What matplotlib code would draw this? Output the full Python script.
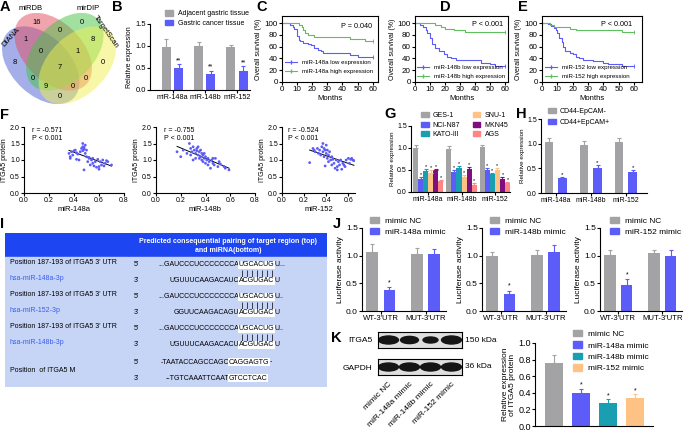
import numpy as np
import matplotlib.pyplot as plt
from matplotlib.patches import Ellipse, Rectangle
from matplotlib.lines import Line2D

plt.rcParams['font.family'] = ['Liberation Sans', 'DejaVu Sans']
plt.rcParams['axes.linewidth'] = 0.8
for k in ['xtick', 'ytick']:
    plt.rcParams[k + '.major.width'] = 0.8
    plt.rcParams[k + '.major.size'] = 2
    plt.rcParams[k + '.major.pad'] = 1
plt.rcParams['axes.labelpad'] = 1.5

W, H = 685, 432
GRAY = '#a3a3a6'
BLUE = '#5c5cf8'
TEAL = '#1a9fb2'
PEACH = '#ffc285'
PURPLE = '#7f0f7f'
SALMON = '#ff8585'
GREEN = '#5fbf5f'

# ---------------- data ----------------
venn_names = ['DIANA', 'miRDB', 'mirDIP', 'TargetScan']
venn_regions = ['1000', '0100', '0010', '0001', '1100', '0110', '0011', '1110',
                '0111', '1010', '0101', '1111', '1011', '1101', '1001']
venn_counts = [8, 16, 0, 0, 1, 0, 8, 0, 1, 0, 0, 7, 9, 0, 0]

mirs = ['miR-148a', 'miR-148b', 'miR-152']
b_adjacent = [0.98, 1.01, 0.98]
b_adjacent_err = [0.17, 0.08, 0.05]
b_cancer = [0.50, 0.36, 0.44]
b_cancer_err = [0.08, 0.08, 0.10]

# survival curves (months, % surviving)
c_low_t = [0, 5, 7, 8, 10, 11, 12, 14, 17, 19, 21, 24, 26, 27, 45, 50, 60]
c_low_s = [100, 97, 93, 90, 78, 72, 70, 67, 65, 62, 58, 55, 52, 50, 45, 43, 43]
c_high_t = [0, 11, 13, 14, 15, 17, 21, 45, 55, 60]
c_high_s = [100, 97, 93, 88, 83, 80, 76, 73, 70, 70]
d_low_t = [0, 3, 5, 7, 8, 10, 11, 13, 16, 19, 21, 24, 27, 44, 50, 53, 60]
d_low_s = [100, 97, 93, 88, 83, 75, 65, 58, 52, 48, 43, 40, 38, 33, 30, 27, 27]
d_high_t = [0, 13, 17, 20, 26, 33, 60]
d_high_s = [100, 97, 93, 90, 88, 85, 85]
e_low_t = [0, 4, 6, 8, 9, 10, 11, 13, 14, 15, 18, 20, 22, 24, 27, 33, 40, 43, 52, 60]
e_low_s = [100, 98, 95, 92, 88, 83, 75, 68, 60, 53, 50, 47, 43, 40, 37, 35, 32, 30, 27, 27]
e_high_t = [0, 5, 8, 18, 22, 52, 60]
e_high_s = [100, 97, 93, 90, 88, 85, 85]

f1_x = [0.36, 0.37, 0.37, 0.38, 0.39, 0.40, 0.41, 0.42, 0.42, 0.43,
        0.44, 0.45, 0.46, 0.47, 0.47, 0.47, 0.48, 0.48, 0.48, 0.49,
        0.49, 0.50, 0.50, 0.51, 0.52, 0.53, 0.54, 0.55, 0.55, 0.56,
        0.57, 0.58, 0.59, 0.60, 0.60, 0.61, 0.62, 0.63, 0.64, 0.65,
        0.66, 0.67, 0.70, 0.48, 0.52]
f1_y = [1.20, 1.05, 1.10, 1.25, 1.15, 1.28, 1.30, 1.02, 1.22, 1.18,
        1.00, 1.25, 1.35, 1.40, 1.50, 1.28, 1.38, 1.32, 0.70, 1.45,
        1.20, 1.30, 1.10, 0.95, 1.05, 0.85, 1.00, 0.90, 1.05, 0.82,
        0.95, 0.78, 1.02, 0.80, 0.72, 0.95, 0.85, 1.00, 0.82, 0.90,
        0.98, 0.95, 0.85, 1.35, 1.08]
f2_x = [0.17, 0.20, 0.22, 0.25, 0.27, 0.28, 0.28, 0.29, 0.30, 0.31,
        0.32, 0.32, 0.33, 0.33, 0.34, 0.34, 0.35, 0.35, 0.36, 0.36,
        0.37, 0.37, 0.38, 0.38, 0.39, 0.40, 0.40, 0.41, 0.42, 0.42,
        0.43, 0.44, 0.45, 0.46, 0.47, 0.48, 0.50, 0.51, 0.52, 0.55,
        0.56, 0.59, 0.46, 0.39, 0.30]
f2_y = [1.25, 1.10, 1.30, 1.20, 1.50, 1.35, 1.15, 1.25, 1.40, 1.30,
        1.20, 1.05, 1.35, 1.28, 1.40, 1.15, 1.25, 1.05, 1.30, 1.10,
        1.20, 1.00, 1.15, 0.95, 1.05, 1.10, 0.90, 1.00, 0.85, 1.05,
        0.95, 0.75, 1.00, 0.90, 0.85, 1.05, 0.80, 0.95, 0.88, 0.80,
        0.75, 0.70, 1.05, 1.20, 1.00]
f3_x = [0.25, 0.28, 0.29, 0.30, 0.32, 0.33, 0.34, 0.35, 0.36, 0.37,
        0.37, 0.38, 0.38, 0.39, 0.39, 0.40, 0.40, 0.41, 0.41, 0.42,
        0.42, 0.43, 0.44, 0.45, 0.45, 0.46, 0.47, 0.48, 0.49, 0.50,
        0.50, 0.51, 0.52, 0.53, 0.54, 0.55, 0.56, 0.57, 0.58, 0.60,
        0.61, 0.62, 0.63, 0.64, 0.65]
f3_y = [0.92, 1.35, 1.30, 1.25, 1.35, 1.20, 1.30, 1.15, 1.40, 1.50,
        1.25, 1.35, 1.10, 1.30, 0.82, 1.45, 1.20, 1.05, 1.30, 1.15,
        0.95, 1.25, 1.00, 1.10, 0.85, 1.02, 0.90, 0.75, 1.00, 0.80,
        0.70, 0.95, 0.85, 1.00, 0.72, 0.90, 0.85, 0.80, 1.00, 1.05,
        0.90, 1.02, 1.05, 1.00, 0.98]
f_r = ['-0.571', '-0.755', '-0.524']

cell_lines = ['GES-1', 'NCI-N87', 'KATO-III', 'SNU-1', 'MKN45', 'AGS']
g_expr = [[1.00, 0.98, 1.02],   # GES-1
          [0.30, 0.45, 0.50],   # NCI-N87
          [0.48, 0.54, 0.40],   # KATO-III
          [0.44, 0.35, 0.50],   # SNU-1
          [0.49, 0.52, 0.30],   # MKN45
          [0.24, 0.17, 0.20]]   # AGS
g_err = [[0.06, 0.06, 0.05],
         [0.04, 0.04, 0.04],
         [0.04, 0.05, 0.04],
         [0.05, 0.04, 0.04],
         [0.04, 0.04, 0.05],
         [0.04, 0.03, 0.03]]

h_neg = [1.03, 0.98, 1.03]
h_neg_err = [0.08, 0.08, 0.09]
h_pos = [0.30, 0.51, 0.43]
h_pos_err = [0.03, 0.05, 0.04]

i_left_top = ["Position 187-193 of ITGA5 3' UTR"] * 3 + ['Position  of ITGA5 M']
i_left_mir = ['hsa-miR-148a-3p', 'hsa-miR-152-3p', 'hsa-miR-148b-3p', '']
i_top_seq = [('...GAUCCCUCCCCCCCA', 'UGCACUG', 'U...'),
             ('...GAUCCCUCCCCCCCA', 'UGCACUG', 'U..'),
             ('...GAUCCCUCCCCCCCA', 'UGCACUG', 'U..'),
             ('-TAATACCAGCCAGC', 'CAGGAGTG', '-')]
i_bot_seq = [('UGUUUCAAGACAUC', 'ACGUGAC', 'U'),
             ('GGUUCAAGACAGU', 'ACGUGAC', 'U'),
             ('UGUUUCAAGACACU', 'ACGUGAC', 'U'),
             ('--TGTCAAATTCAAT', 'GTCCTCAC', '')]

j_sites = ["WT-3'UTR", "MUT-3'UTR"]
j_mimics = ['miR-148a mimic', 'miR-148b mimic', 'miR-152 mimic']
j_nc = [[1.06, 1.03], [1.00, 1.02], [1.02, 1.04]]
j_nc_err = [[0.15, 0.11], [0.06, 0.08], [0.08, 0.07]]
j_mim = [[0.38, 1.03], [0.31, 1.07], [0.47, 0.99]]
j_mim_err = [[0.05, 0.09], [0.06, 0.12], [0.10, 0.11]]

k_labels = ['mimic NC', 'miR-148a mimic', 'miR-148b mimic', 'miR-152 mimic']
k_vals = [0.76, 0.40, 0.28, 0.34]
k_err = [0.09, 0.05, 0.04, 0.04]
k_itga5_band = [1.0, 0.9, 0.75, 1.0]
k_gapdh_band = [1.0, 1.0, 1.0, 1.0]

# ---------------- helpers ----------------
fig = plt.figure(figsize=(6.85, 4.32), dpi=100)


def box(x0, y0, x1, y1):
    return fig.add_axes([x0 / W, 1 - y1 / H, (x1 - x0) / W, (y1 - y0) / H])


def ftext(x, y, s, **kw):
    fig.text(x / W, 1 - y / H, s, **kw)


def prism(ax, fs):
    ax.spines[['top', 'right']].set_visible(False)
    ax.tick_params(labelsize=fs)


def bars(ax, x, vals, errs, color, w):
    ax.bar(x, vals, w, color=color, edgecolor='none')
    ax.errorbar(x, vals, yerr=[np.zeros(len(vals)), errs], fmt='none', ecolor=color,
                elinewidth=0.8, capsize=1.5, capthick=0.8)


def stars(ax, x, vals, errs, s, fs, dy):
    for xi, v, e in zip(x, vals, errs):
        ax.text(xi, v + e + dy, s, ha='center', va='bottom', fontsize=fs)


def legend(ax, handles, labels, x, y, fs, **kw):
    ax.legend(handles, labels, loc='upper left', bbox_to_anchor=(x / W, 1 - y / H),
              bbox_transform=fig.transFigure, frameon=False, fontsize=fs,
              borderpad=0, borderaxespad=0, **kw)


def squares(colors):
    return [Rectangle((0, 0), 1, 1, color=c) for c in colors]


def letter(x, y, s):
    ftext(x, y, s, fontsize=10.5, fontweight='bold', va='center', ha='left')


# ---------------- A: venn ----------------
ax = box(2, 13, 116, 104)
ax.set_xlim(0.039, 0.955)
ax.set_ylim(0.112, 0.788)
ax.axis('off')
ell = [(0.350, 0.400, 140), (0.450, 0.500, 140), (0.544, 0.500, 40), (0.644, 0.400, 40)]
venn_colors = ['#4a60d4', '#e34a5c', '#45c245', '#f0f050']
for (cx, cy, ang), c in zip(ell, venn_colors):
    ax.add_patch(Ellipse((cx, cy), 0.72, 0.45, angle=ang, facecolor=c, alpha=0.5, edgecolor='none'))
venn_pos = {'0001': (0.85, 0.42), '0010': (0.68, 0.72), '0011': (0.77, 0.59), '0100': (0.32, 0.72),
            '0101': (0.71, 0.30), '0110': (0.50, 0.66), '0111': (0.65, 0.50), '1000': (0.14, 0.42),
            '1001': (0.50, 0.17), '1010': (0.29, 0.30), '1011': (0.39, 0.24), '1100': (0.23, 0.59),
            '1101': (0.61, 0.24), '1110': (0.35, 0.50), '1111': (0.50, 0.38)}
for reg, n in zip(venn_regions, venn_counts):
    px, py = venn_pos[reg]
    ax.text(px, py, str(n), ha='center', va='center', fontsize=5.5)
ftext(11, 37, venn_names[0], rotation=48, ha='center', va='center', fontsize=5.5)
ftext(31, 9, venn_names[1], ha='center', va='center', fontsize=5.5)
ftext(88, 9, venn_names[2], ha='center', va='center', fontsize=5.5)
ftext(106, 32, venn_names[3], rotation=-55, ha='center', va='center', fontsize=5.5)
letter(0, 7, 'A')

# ---------------- B ----------------
ax = box(150, 24, 250, 90)
prism(ax, 5.5)
xg = np.arange(3)
bars(ax, xg - 0.19, b_adjacent, b_adjacent_err, GRAY, 0.28)
bars(ax, xg + 0.19, b_cancer, b_cancer_err, BLUE, 0.28)
stars(ax, xg + 0.19, b_cancer, b_cancer_err, '**', 5, 0.0)
ax.set_xlim(-0.7, 2.4)
ax.set_ylim(0, 1.5)
ax.set_yticks([0, 0.5, 1.0, 1.5])
ax.set_xticks(xg)
ax.set_xticklabels(mirs, fontsize=5.2)
ax.set_ylabel('Relative expression', fontsize=5)
legend(ax, squares([GRAY, BLUE]), ['Adjacent gastric tissue', 'Gastric cancer tissue'],
       165, 10, 5, handlelength=1.2, handleheight=0.9, handletextpad=0.7, labelspacing=0.35)
letter(112, 7, 'B')


# ---------------- C, D, E ----------------
def km(rect, xr, lo_t, lo_s, hi_t, hi_s, name, ptxt, leg_xy, p_xy):
    ax = box(*rect)
    ax.step(lo_t, lo_s, where='post', color=BLUE, lw=0.8)
    ax.step(hi_t, hi_s, where='post', color=GREEN, lw=0.8)
    ax.plot(lo_t[-1], lo_s[-1], marker='|', color=BLUE, ms=2.5, mew=0.6)
    ax.plot(hi_t[-1], hi_s[-1], marker='|', color=GREEN, ms=2.5, mew=0.6)
    ax.set_xlim(0, xr)
    ax.set_ylim(0, 112)
    ax.set_xticks(range(0, 61, 10))
    ax.set_yticks(range(0, 101, 20))
    ax.tick_params(labelsize=5.8)
    ax.set_xlabel('Months', fontsize=5.5)
    ax.set_ylabel('Overall survival (%)', fontsize=5)
    h = [Line2D([], [], color=BLUE, lw=0.8, marker='|', ms=2.5),
         Line2D([], [], color=GREEN, lw=0.8, marker='|', ms=2.5)]
    legend(ax, h, [name + ' low expression', name + ' high expression'], leg_xy[0], leg_xy[1], 4.4,
           handlelength=2.0, handletextpad=0.7, labelspacing=0.6)
    ftext(p_xy[0], p_xy[1], ptxt, ha='right', va='center', fontsize=5.2)


km((282, 16, 378, 82), 63.5, c_low_t, c_low_s, c_high_t, c_high_s, 'miR-148a', 'P = 0.040', (285, 60), (372, 26))
km((415, 16, 508, 82), 62, d_low_t, d_low_s, d_high_t, d_high_s, 'miR-148b', 'P < 0.001', (417, 65), (503, 25))
km((542, 16, 642, 82), 65.2, e_low_t, e_low_s, e_high_t, e_high_s, 'miR-152', 'P < 0.001', (545, 65), (632, 25))
letter(256, 7, 'C')
letter(440, 7, 'D')
letter(518, 7, 'E')

# ---------------- F ----------------
f_sets = [(f1_x, f1_y, (24, 127, 124, 193), 0.8, 'miR-148a'),
          (f2_x, f2_y, (156, 127, 255, 193), 0.8, 'miR-148b'),
          (f3_x, f3_y, (282, 127, 355, 193), 0.66, 'miR-152')]
for (fx, fy, rect, xr, name), r in zip(f_sets, f_r):
    ax = box(*rect)
    prism(ax, 5)
    ax.scatter(fx, fy, s=4, color=BLUE, edgecolors='none', zorder=3)
    k, b = np.polyfit(fx, fy, 1)
    xx = np.array([min(fx), max(fx)])
    ax.plot(xx, k * xx + b, color='black', lw=0.7)
    ax.set_xlim(0, xr)
    ax.set_ylim(0, 2.0)
    ax.set_xticks(np.arange(0, xr + 0.001, 0.2))
    ax.set_yticks([0, 0.5, 1.0, 1.5, 2.0])
    ax.set_xlabel(name, fontsize=5.5)
    ax.set_ylabel('ITGA5 protein', fontsize=5)
    ax.text(0.08, 1.0, 'r = ' + r + '\nP < 0.001', transform=ax.transAxes, fontsize=5,
            va='top', ha='left', linespacing=1.2)
letter(0, 115, 'F')

# ---------------- G ----------------
ax = box(411, 126, 510, 192)
prism(ax, 5)
g_colors = [GRAY, BLUE, TEAL, PEACH, PURPLE, SALMON]
for i, (vals, errs, c) in enumerate(zip(g_expr, g_err, g_colors)):
    xi = xg + (i - 2.5) * 0.15
    bars(ax, xi, vals, errs, c, 0.15)
    if i > 0:
        stars(ax, xi, vals, errs, '*', 4, 0.0)
ax.set_xlim(-0.51, 2.45)
ax.set_ylim(0, 1.5)
ax.set_yticks([0, 0.5, 1.0, 1.5])
ax.set_xticks(xg)
ax.set_xticklabels(mirs)
ax.set_ylabel('Relative expression', fontsize=4.5)
legend(ax, squares(g_colors), cell_lines, 421, 112, 5, ncol=2, handlelength=1.1, handleheight=0.8,
       handletextpad=0.6, labelspacing=0.35, columnspacing=1.8)
letter(384, 114, 'G')

# ---------------- H ----------------
ax = box(541, 119, 647, 193)
prism(ax, 5)
bars(ax, xg - 0.19, h_neg, h_neg_err, GRAY, 0.24)
bars(ax, xg + 0.19, h_pos, h_pos_err, BLUE, 0.24)
stars(ax, xg + 0.19, h_pos, h_pos_err, '*', 4.5, 0.0)
ax.set_xlim(-0.42, 2.6)
ax.set_ylim(0, 1.5)
ax.set_yticks([0, 0.5, 1.0, 1.5])
ax.set_xticks(xg)
ax.set_xticklabels(mirs)
ax.set_ylabel('Relative expression', fontsize=4.5)
legend(ax, squares([GRAY, BLUE]), ['CD44-EpCAM-', 'CD44+EpCAM+'], 548, 108, 5,
       handlelength=1.1, handleheight=0.8, handletextpad=0.6, labelspacing=0.55)
letter(516, 114, 'H')

# ---------------- I: table ----------------
tab = box(5, 233, 327, 387)
tab.set_xlim(5, 327)
tab.set_ylim(387, 233)
tab.axis('off')
HEAD = '#1d45f2'
CELL = '#c6d4f6'
tab.add_patch(Rectangle((5, 233), 123, 23, color=HEAD))
tab.add_patch(Rectangle((129, 233), 198, 23, color=HEAD))
tab.text(228, 241.5, 'Predicted consequential pairing of target region (top)', ha='center', va='center',
         color='white', fontsize=5, fontweight='bold')
tab.text(228, 250, 'and miRNA(bottom)', ha='center', va='center', color='white', fontsize=5,
         fontweight='bold')
row_spans = [(257, 288), (289, 320), (321, 353), (354, 387)]
pair_boxes = []
for r, (r0, r1) in enumerate(row_spans):
    tab.add_patch(Rectangle((5, r0), 123, r1 - r0, color=CELL))
    tab.add_patch(Rectangle((129, r0), 198, r1 - r0, color=CELL))
    if i_left_mir[r]:
        tab.text(10, r0 + 6, i_left_top[r], fontsize=5, va='center')
        tab.text(10, r0 + 22, i_left_mir[r], fontsize=5, va='center', color='#3b5cf2')
        xh = 239
    else:
        tab.text(10, (r0 + r1) / 2, i_left_top[r], fontsize=5, va='center')
        xh = 229
    yt, yb = r0 + 8, r0 + 24
    tab.text(134, yt, "5'", fontsize=5, va='center')
    tab.text(134, yb, "3'", fontsize=5, va='center')
    for yy, (pre, hl, post) in [(yt, i_top_seq[r]), (yb, i_bot_seq[r])]:
        tab.text(xh, yy, pre, fontsize=5, va='center', ha='right')
        t = tab.text(xh, yy, hl, fontsize=5, va='center', ha='left',
                     bbox=dict(facecolor='white', edgecolor='none', pad=0.4))
        tab.annotate(post, xy=(1, 0.5), xycoords=t, fontsize=5, va='center', ha='left')
    if i_left_mir[r]:
        pair_boxes.append((t, (yt + yb) / 2))
letter(0, 224, 'I')

# ---------------- J ----------------
j_rects = [(362, 228, 446, 311), (482, 228, 566, 311), (600, 228, 682, 311)]
j_leg = [370, 490, 610]
xs = np.arange(2)
for m in range(3):
    ax = box(*j_rects[m])
    prism(ax, 6)
    bars(ax, xs - 0.19, j_nc[m], j_nc_err[m], GRAY, 0.26)
    bars(ax, xs + 0.19, j_mim[m], j_mim_err[m], BLUE, 0.26)
    ax.text(0.19, j_mim[m][0] + j_mim_err[m][0] + 0.02, '*', ha='center', va='bottom', fontsize=5)
    ax.set_xlim(-0.42, 1.45)
    ax.set_ylim(0, 1.5)
    ax.set_yticks([0, 0.5, 1.0, 1.5])
    ax.set_xticks(xs)
    ax.set_xticklabels(j_sites, fontsize=5.6)
    ax.set_ylabel('Luciferase activity', fontsize=6)
    legend(ax, squares([GRAY, BLUE]), ['mimic NC', j_mimics[m]], j_leg[m], 217, 6,
           handlelength=1.1, handleheight=0.8, handletextpad=0.7, labelspacing=0.35)
letter(333, 224, 'J')

# ---------------- K ----------------
kb1 = box(378, 332, 462, 348)
kb2 = box(378, 359, 462, 375)
for kb, band, lab, kda in [(kb1, k_itga5_band, 'ITGA5', '150 kDa'), (kb2, k_gapdh_band, 'GAPDH', '36 kDa')]:
    kb.set_xlim(0, 4)
    kb.set_ylim(0, 1)
    kb.set_facecolor('#dedede')
    for i, v in enumerate(band):
        kb.add_patch(Ellipse((i + 0.5, 0.5), 0.95 * v, 0.5 * v, color='#151515'))
    kb.set_yticks([0.5])
    kb.set_yticklabels([lab], fontsize=6)
    kb.tick_params(length=0, pad=4)
    kb.set_xticks([])
    kb.text(1.04, 0.5, kda, transform=kb.transAxes, va='center', ha='left', fontsize=6)
kb2.set_xticks(np.arange(4) + 0.5)
kb2.set_xticklabels(k_labels, rotation=45, ha='right', rotation_mode='anchor', fontsize=6)

ax = box(535, 343, 653, 426)
prism(ax, 6.5)
k_colors = [GRAY, BLUE, TEAL, PEACH]
xk = np.arange(4)
for i in range(4):
    bars(ax, [xk[i]], [k_vals[i]], [k_err[i]], k_colors[i], 0.67)
stars(ax, xk[1:], k_vals[1:], k_err[1:], '*', 5, 0.0)
ax.set_xlim(-0.72, 3.65)
ax.set_ylim(0, 1.0)
ax.set_yticks([0, 0.2, 0.4, 0.6, 0.8, 1.0])
ax.set_xticks([])
ax.set_ylabel('Relative expression\nof ITGA5 protein', fontsize=6, linespacing=1.0)
legend(ax, squares(k_colors), k_labels, 573, 330, 6, handlelength=1.1, handleheight=0.8,
       handletextpad=0.7, labelspacing=0.4)
letter(331, 338, 'K')

# pairing bars between the highlighted bases
fig.canvas.draw()
rend = fig.canvas.get_renderer()
inv = tab.transData.inverted()
for t, ym in pair_boxes:
    bb = t.get_window_extent(rend).transformed(inv)
    xl = np.linspace(bb.x0, bb.x1, 15)[1::2]
    tab.vlines(xl, ym - 3.5, ym + 3.5, color='black', lw=0.5)

fig.savefig('out.png', dpi=100, facecolor='white')
